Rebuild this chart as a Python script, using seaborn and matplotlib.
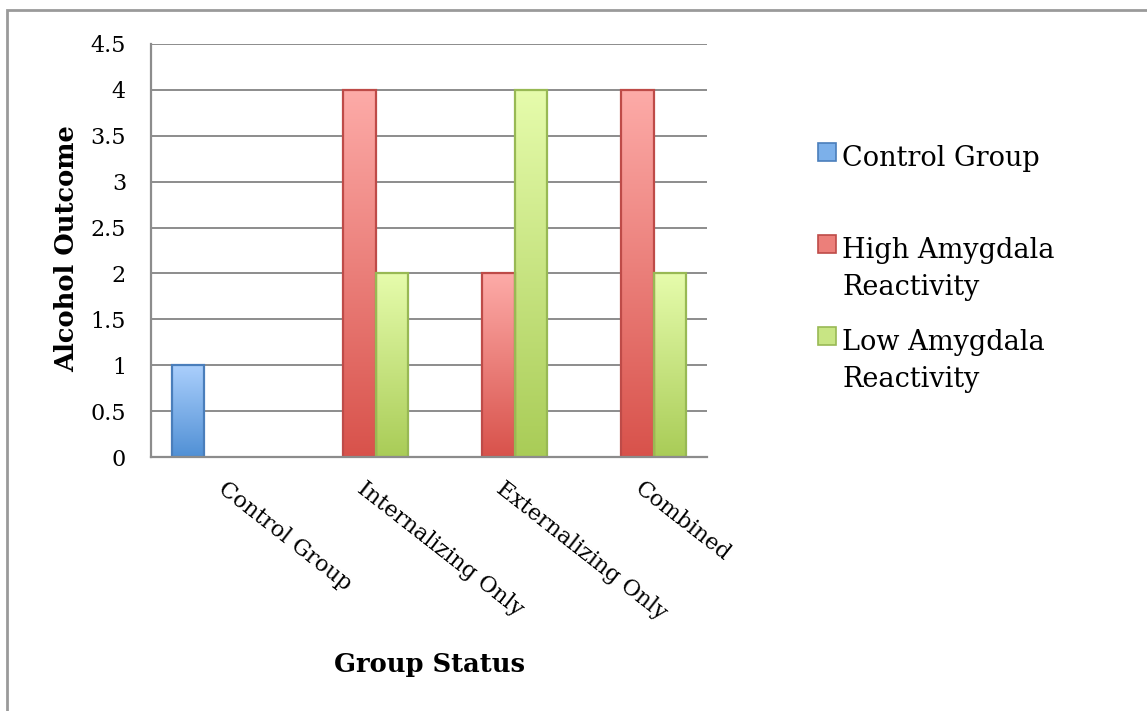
import numpy as np
import pandas as pd
import matplotlib
matplotlib.use("Agg")
import matplotlib.pyplot as plt
from matplotlib.patches import Rectangle
from matplotlib.colors import LinearSegmentedColormap, to_rgba
from matplotlib.transforms import ScaledTranslation
import seaborn as sns

# ---------------- data ----------------
categories = ["Control Group", "Internalizing Only", "Externalizing Only", "Combined"]
series = ["Control Group", "High Amygdala Reactivity", "Low Amygdala Reactivity"]
legend_lines = [["Control Group"], ["High Amygdala", "Reactivity"], ["Low Amygdala", "Reactivity"]]
control_values = [1, None, None, None]
high_values = [None, 4, 2, 4]
low_values = [None, 2, 4, 2]
y_ticks = [0, 0.5, 1, 1.5, 2, 2.5, 3, 3.5, 4, 4.5]
y_tick_labels = ["0", "0.5", "1", "1.5", "2", "2.5", "3", "3.5", "4", "4.5"]
x_title = "Group Status"
y_title = "Alcohol Outcome"

# ---------------- style ----------------
mid_colors = ["#7cb0ea", "#ec7f7a", "#c8e584"]
top_colors = ["#abcffc", "#fdaba8", "#e6fcac"]
bottom_colors = ["#5090d5", "#d8524b", "#a9cc57"]
edge_colors = ["#4a7ebb", "#be4b48", "#98b954"]
grid_gray = "#8c8c8c"

sns.set_style("white")
plt.rcParams["font.family"] = ["DejaVu Serif"]
plt.rcParams["text.color"] = "black"
plt.rcParams["xtick.labelcolor"] = "black"
plt.rcParams["ytick.labelcolor"] = "black"

W, H = 1147, 711
fig = plt.figure(figsize=(W / 100, H / 100), dpi=100)
ax = fig.add_axes([151 / W, 1 - 457 / H, (707 - 151) / W, (457 - 44) / H])

rows = []
for s, vals in zip(series, [control_values, high_values, low_values]):
    for c, v in zip(categories, vals):
        if v is not None:
            rows.append({"group": c, "series": s, "value": v})
df = pd.DataFrame(rows)

sns.barplot(data=df, x="group", y="value", hue="series", order=categories,
            hue_order=series, palette=mid_colors, width=0.692, errorbar=None,
            ax=ax, legend=False, saturation=1)

# gradient fill of each bar
grad = np.linspace(0, 1, 256).reshape(-1, 1)
mid_rgba = [np.array(to_rgba(c)) for c in mid_colors]
for p in list(ax.patches):
    h = p.get_height()
    if h == 0 or np.isnan(h):
        continue
    fc = np.array(p.get_facecolor())
    idx = int(np.argmin([np.abs(fc - m).sum() for m in mid_rgba]))
    cmap = LinearSegmentedColormap.from_list("g%d" % idx, [bottom_colors[idx], top_colors[idx]])
    x0, y0, w = p.get_x(), p.get_y(), p.get_width()
    ax.imshow(grad, extent=[x0, x0 + w, y0, y0 + h], origin="lower", aspect="auto",
              cmap=cmap, zorder=3, interpolation="bicubic")
    p.set_facecolor("none")
    p.set_edgecolor(edge_colors[idx])
    p.set_linewidth(1.6)
    p.set_zorder(4)

ax.set_xlim(-0.5, 3.5)
ax.set_ylim(0, 4.5)
ax.set_aspect("auto")

# grid & spines
ax.set_axisbelow(True)
ax.yaxis.grid(True, color=grid_gray, linewidth=1.4)
ax.xaxis.grid(False)
for side in ["top", "right"]:
    ax.spines[side].set_visible(False)
for side in ["left", "bottom"]:
    ax.spines[side].set_color(grid_gray)
    ax.spines[side].set_linewidth(1.6)
    ax.spines[side].set_zorder(5)

# ticks
ax.set_yticks(y_ticks)
ax.set_yticklabels(y_tick_labels, fontsize=16)
ax.set_xticks(np.arange(-0.5, 4.0, 1.0))
ax.set_xticklabels([""] * 5)
ax.set_xticks(range(len(categories)), minor=True)
ax.set_xticklabels(categories, minor=True, rotation=-38, ha="left", va="top",
                   rotation_mode="anchor", fontsize=16)
ax.tick_params(axis="x", which="major", length=6, width=1.4, color=grid_gray, direction="out")
ax.tick_params(axis="x", which="minor", length=0, pad=15)
ax.tick_params(axis="y", which="major", length=6, width=1.4, color=grid_gray,
               direction="out", pad=12)
shift = ScaledTranslation(7 / 100, 0, fig.dpi_scale_trans)
for lbl in ax.get_xticklabels(minor=True):
    lbl.set_transform(lbl.get_transform() + shift)
ax.set_xlabel("")
ax.set_ylabel("")

# axis titles
fig.text(66.5 / W, 1 - 248.5 / H, y_title, rotation=90, ha="center", va="center",
         fontsize=18.5, fontweight="bold")
fig.text(429 / W, 1 - 672 / H, x_title, ha="center", va="baseline",
         fontsize=18.5, fontweight="bold")

# legend
sq_y = [143, 235, 327]
base_y = [166, 258, 350]
for i in range(len(series)):
    fig.add_artist(Rectangle((818 / W, 1 - (sq_y[i] + 18) / H), 18 / W, 18 / H,
                             transform=fig.transFigure, facecolor=mid_colors[i],
                             edgecolor=edge_colors[i], linewidth=1.2))
    for j, line in enumerate(legend_lines[i]):
        fig.text(842 / W, 1 - (base_y[i] + 37 * j) / H, line, ha="left",
                 va="baseline", fontsize=19.5)

# outer chart-area border (cropped on right/bottom)
fig.add_artist(Rectangle((7 / W, -0.5), 2.0, 1 - 9.5 / H + 0.5, transform=fig.transFigure,
                         fill=False, edgecolor="#9a9a9a", linewidth=2))

fig.savefig("out.png", dpi=100)
